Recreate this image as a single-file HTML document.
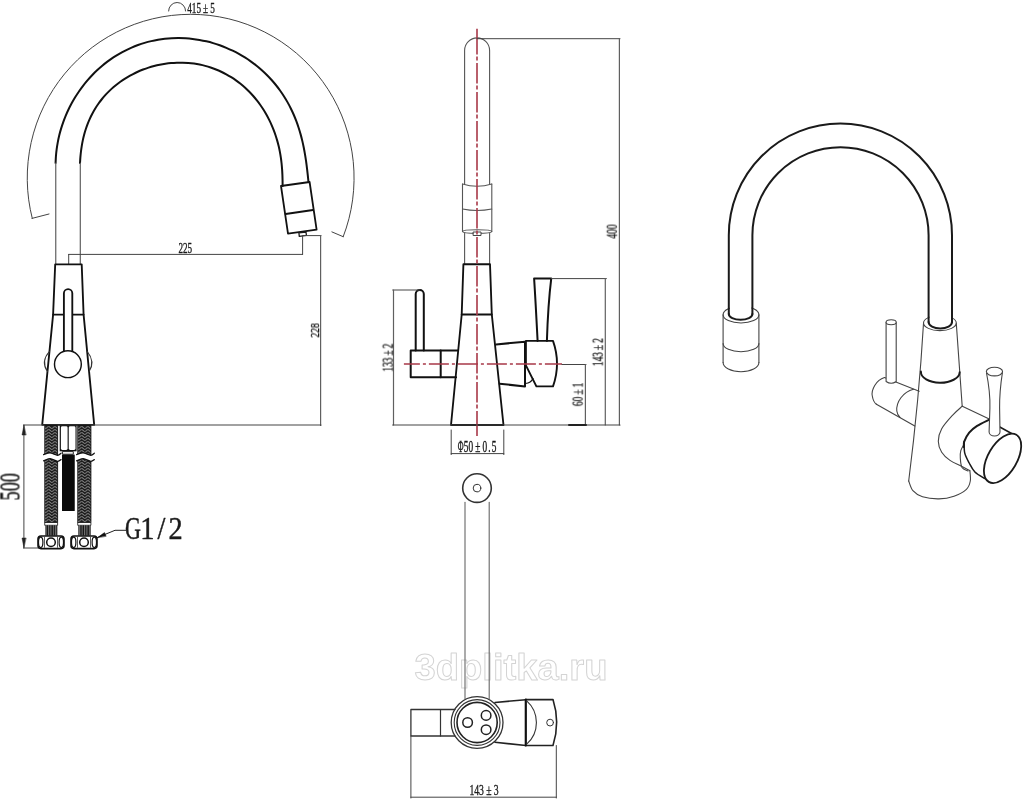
<!DOCTYPE html>
<html><head><meta charset="utf-8"><style>
html,body{margin:0;padding:0;background:#fff;width:1023px;height:800px;overflow:hidden}
svg{display:block}
</style></head><body>
<svg width="1023" height="800" viewBox="0 0 1023 800" stroke-linecap="round" stroke-linejoin="round">
<defs><filter id="gs" x="-0.1" y="-0.1" width="1.2" height="1.2"><feColorMatrix type="saturate" values="0"/></filter></defs>
<rect width="1023" height="800" fill="#fff"/>
<path d="M32.27,218.33 A163.5,163.5 0 1 1 343.20,236.70" stroke="#444" stroke-width="1" fill="none"/>
<line x1="32" y1="218.4" x2="49" y2="214" stroke="#444" stroke-width="1" />
<line x1="331.9" y1="231.9" x2="343.2" y2="236.7" stroke="#444" stroke-width="1" />
<path d="M168.6,11 A8.5,8.5 0 0 1 185.6,11" stroke="#444" stroke-width="1" fill="none" />
<path d="M55.59,162.99 C55.65,161.83 55.77,158.33 55.95,156.03 C56.13,153.72 56.37,151.42 56.67,149.14 C56.97,146.85 57.34,144.58 57.76,142.32 C58.18,140.06 58.67,137.81 59.21,135.57 C59.75,133.34 60.35,131.11 61.01,128.91 C61.67,126.70 62.39,124.51 63.16,122.34 C63.94,120.16 64.77,118.00 65.66,115.87 C66.55,113.74 67.49,111.62 68.49,109.53 C69.49,107.44 70.55,105.37 71.66,103.33 C72.76,101.30 73.93,99.28 75.14,97.30 C76.35,95.32 77.62,93.37 78.94,91.45 C80.25,89.54 81.62,87.66 83.04,85.81 C84.46,83.97 85.92,82.16 87.43,80.40 C88.95,78.64 90.51,76.91 92.11,75.23 C93.71,73.56 95.37,71.92 97.06,70.34 C98.75,68.75 100.48,67.21 102.26,65.73 C104.03,64.24 105.85,62.80 107.71,61.42 C109.56,60.04 111.45,58.71 113.38,57.44 C115.31,56.17 117.27,54.96 119.26,53.80 C121.26,52.65 123.29,51.55 125.34,50.52 C127.40,49.48 129.49,48.51 131.60,47.60 C133.71,46.68 135.86,45.83 138.02,45.05 C140.18,44.26 142.37,43.54 144.58,42.89 C146.78,42.23 149.01,41.64 151.25,41.12 C153.49,40.59 155.76,40.14 158.03,39.75 C160.30,39.35 162.59,39.03 164.88,38.77 C167.17,38.52 169.48,38.33 171.79,38.20 C174.09,38.08 176.41,38.02 178.73,38.03 C181.04,38.05 183.36,38.12 185.68,38.27 C187.99,38.41 190.31,38.62 192.62,38.90 C194.92,39.17 197.23,39.52 199.52,39.92 C201.81,40.33 204.09,40.80 206.36,41.33 C208.63,41.87 210.89,42.47 213.12,43.13 C215.36,43.78 217.58,44.51 219.78,45.29 C221.97,46.07 224.15,46.92 226.30,47.82 C228.45,48.72 230.58,49.68 232.68,50.70 C234.77,51.71 236.85,52.79 238.88,53.92 C240.92,55.05 242.92,56.24 244.89,57.47 C246.86,58.71 248.79,60.00 250.69,61.34 C252.58,62.68 254.44,64.08 256.25,65.52 C258.07,66.96 259.84,68.45 261.57,69.99 C263.29,71.52 264.98,73.11 266.62,74.73 C268.25,76.36 269.85,78.03 271.39,79.74 C272.93,81.45 274.42,83.21 275.87,85.00 C277.31,86.79 278.70,88.63 280.04,90.49 C281.39,92.36 282.68,94.27 283.91,96.20 C285.15,98.14 286.34,100.11 287.47,102.12 C288.60,104.12 289.68,106.15 290.70,108.22 C291.73,110.28 292.70,112.37 293.63,114.48 C294.55,116.60 295.42,118.74 296.24,120.90 C297.06,123.07 297.82,125.25 298.54,127.46 C299.26,129.66 299.93,131.89 300.56,134.12 C301.19,136.36 301.76,138.62 302.30,140.88 C302.84,143.15 303.33,145.43 303.79,147.71 C304.24,150.00 304.66,152.29 305.04,154.59 C305.43,156.88 305.78,159.19 306.10,161.48 C306.43,163.78 306.72,166.08 307.00,168.37 C307.28,170.66 307.53,172.94 307.77,175.21 C308.02,177.48 308.36,180.85 308.48,181.98" stroke="#111" stroke-width="2" fill="none" />
<path d="M80.01,162.94 C80.07,162.02 80.22,159.25 80.37,157.39 C80.53,155.52 80.71,153.63 80.94,151.75 C81.17,149.86 81.43,147.96 81.74,146.07 C82.04,144.18 82.39,142.28 82.79,140.40 C83.19,138.52 83.63,136.64 84.12,134.78 C84.62,132.93 85.16,131.08 85.75,129.26 C86.34,127.43 86.98,125.62 87.67,123.84 C88.36,122.06 89.10,120.30 89.89,118.57 C90.69,116.84 91.53,115.13 92.42,113.45 C93.32,111.78 94.26,110.13 95.25,108.52 C96.25,106.91 97.29,105.33 98.38,103.78 C99.47,102.24 100.61,100.72 101.79,99.25 C102.97,97.78 104.21,96.34 105.48,94.94 C106.75,93.54 108.07,92.18 109.43,90.86 C110.79,89.54 112.19,88.26 113.63,87.03 C115.07,85.79 116.55,84.59 118.06,83.44 C119.58,82.29 121.13,81.18 122.71,80.11 C124.30,79.05 125.92,78.03 127.56,77.05 C129.21,76.08 130.89,75.15 132.59,74.27 C134.29,73.39 136.02,72.55 137.77,71.77 C139.53,70.98 141.30,70.24 143.10,69.55 C144.90,68.86 146.71,68.22 148.55,67.63 C150.38,67.04 152.23,66.51 154.09,66.02 C155.95,65.53 157.83,65.09 159.72,64.71 C161.60,64.33 163.50,64.00 165.40,63.72 C167.30,63.44 169.21,63.21 171.12,63.04 C173.04,62.87 174.95,62.76 176.87,62.69 C178.78,62.63 180.70,62.62 182.61,62.67 C184.52,62.72 186.43,62.82 188.33,62.98 C190.23,63.13 192.13,63.35 194.01,63.61 C195.90,63.88 197.77,64.20 199.64,64.58 C201.50,64.96 203.35,65.39 205.19,65.88 C207.02,66.37 208.84,66.91 210.64,67.51 C212.44,68.11 214.23,68.76 215.99,69.46 C217.75,70.17 219.49,70.93 221.21,71.73 C222.93,72.54 224.62,73.41 226.29,74.32 C227.96,75.23 229.60,76.19 231.21,77.20 C232.82,78.21 234.41,79.27 235.96,80.38 C237.51,81.49 239.04,82.64 240.53,83.84 C242.02,85.03 243.47,86.28 244.89,87.56 C246.31,88.84 247.70,90.17 249.05,91.53 C250.40,92.90 251.71,94.30 252.99,95.74 C254.26,97.18 255.50,98.65 256.70,100.16 C257.89,101.66 259.05,103.21 260.16,104.77 C261.28,106.34 262.35,107.94 263.38,109.56 C264.42,111.19 265.41,112.84 266.35,114.51 C267.30,116.18 268.20,117.88 269.06,119.59 C269.92,121.30 270.74,123.04 271.51,124.78 C272.28,126.53 273.01,128.30 273.70,130.07 C274.38,131.85 275.03,133.64 275.62,135.44 C276.22,137.24 276.78,139.05 277.29,140.86 C277.81,142.68 278.28,144.51 278.71,146.34 C279.14,148.17 279.53,150.01 279.88,151.86 C280.23,153.71 280.54,155.56 280.81,157.42 C281.09,159.27 281.32,161.14 281.53,163.01 C281.74,164.88 281.90,166.76 282.04,168.65 C282.19,170.55 282.29,172.44 282.38,174.36 C282.46,176.28 282.52,178.21 282.56,180.16 C282.60,182.12 282.61,185.10 282.62,186.09" stroke="#111" stroke-width="2" fill="none" />
<line x1="55.75" y1="163" x2="55.75" y2="264.5" stroke="#606060" stroke-width="1.2" />
<line x1="80.3" y1="163" x2="80.3" y2="264.5" stroke="#606060" stroke-width="1.2" />
<path d="M281.00,186.00 L309.60,182.00 L316.60,229.60 L288.00,233.60 Z" stroke="#111" stroke-width="1.8" fill="none" />
<line x1="285.6" y1="214" x2="313" y2="210" stroke="#111" stroke-width="1.8" />
<path d="M298.90,232.90 L306.00,232.00 L306.40,235.40 L299.30,236.30 Z" stroke="#1a1a1a" stroke-width="1.3" fill="none" />
<line x1="302.6" y1="235.8" x2="302.6" y2="254.4" stroke="#444" stroke-width="1" />
<line x1="68.7" y1="254.4" x2="302.6" y2="254.4" stroke="#444" stroke-width="1" />
<line x1="68.7" y1="254.4" x2="68.7" y2="264.5" stroke="#444" stroke-width="1" />
<line x1="304" y1="235.6" x2="321" y2="235.6" stroke="#444" stroke-width="1" />
<line x1="320.6" y1="235.6" x2="320.6" y2="425.5" stroke="#606060" stroke-width="1.2" />
<path d="M55.20,264.30 L81.70,264.30 L83.60,314.60 L94.20,424.80 L42.20,424.80 L53.10,314.60 Z" stroke="#111" stroke-width="1.85" fill="none" />
<line x1="53.1" y1="314.6" x2="83.6" y2="314.6" stroke="#111" stroke-width="1.85" />
<path d="M63.9,354 L63.9,293.3 A4.2,4.2 0 0 1 72.3,293.3 L72.3,354" stroke="#111" stroke-width="1.85" fill="white" />
<circle cx="67.9" cy="364.2" r="13.4" stroke="#111" stroke-width="1.45" fill="white"/>
<path d="M49.4,351.5 Q40.5,361.5 47.5,371.5" stroke="#333" stroke-width="1.1" fill="none" />
<path d="M87.2,351.5 Q95.5,361.5 89.1,371.5" stroke="#333" stroke-width="1.1" fill="none" />
<line x1="23.5" y1="425" x2="321" y2="425" stroke="#444" stroke-width="1.2" />
<line x1="23.9" y1="425" x2="23.9" y2="548" stroke="#444" stroke-width="1" />
<path d="M23.90,425.50 L22.00,435.00 L25.80,435.00 Z" stroke="#222" stroke-width="0.5" fill="#222" />
<path d="M23.90,547.50 L22.00,538.00 L25.80,538.00 Z" stroke="#222" stroke-width="0.5" fill="#222" />
<line x1="23.5" y1="548" x2="39" y2="548" stroke="#444" stroke-width="1" />
<defs>
<pattern id="braid" x="45.6" y="0" width="6.2" height="3" patternUnits="userSpaceOnUse">
<rect width="6.2" height="3" fill="#1c1c1c"/>
<path d="M0.4,2.5 L2.6,0.6 M3.6,0.6 L5.8,2.5" stroke="#8a8a8a" stroke-width="0.95" fill="none"/>
</pattern>
<pattern id="braid2" x="78.6" y="0" width="6.2" height="3" patternUnits="userSpaceOnUse">
<rect width="6.2" height="3" fill="#1c1c1c"/>
<path d="M0.4,2.5 L2.6,0.6 M3.6,0.6 L5.8,2.5" stroke="#8a8a8a" stroke-width="0.95" fill="none"/>
</pattern>
<pattern id="rib" width="2.4" height="4" patternUnits="userSpaceOnUse">
<rect width="2.4" height="4" fill="#111"/>
<rect x="0" width="1.1" height="4" fill="#777"/>
</pattern>
</defs>
<rect x="45.1" y="425.5" width="12.5" height="97" fill="url(#braid)" stroke="#111" stroke-width="0.9"/>
<path d="M43.60,454.60 C44.67,454.32 47.72,452.78 50.04,452.90 C52.36,453.02 55.69,455.25 57.52,455.30 C59.35,455.35 60.42,453.55 61.00,453.20 L61.00,459.60 C60.42,459.88 59.35,461.47 57.52,461.30 C55.69,461.13 52.36,458.67 50.04,458.60 C47.72,458.53 44.67,460.52 43.60,460.90 Z" fill="white" stroke="none"/>
<path d="M43.60,454.60 C44.67,454.32 47.72,452.78 50.04,452.90 C52.36,453.02 55.69,455.25 57.52,455.30 C59.35,455.35 60.42,453.55 61.00,453.20" stroke="#111" stroke-width="1.3" fill="none" />
<path d="M43.60,460.90 C44.67,460.52 47.72,458.53 50.04,458.60 C52.36,458.67 55.69,461.13 57.52,461.30 C59.35,461.47 60.42,459.88 61.00,459.60" stroke="#111" stroke-width="1.3" fill="none" />
<rect x="45.1" y="522.5" width="12.5" height="2.8" fill="white" stroke="#111" stroke-width="0.8"/>
<rect x="45.300000000000004" y="525.3" width="12.1" height="10.4" fill="url(#rib)"/>
<rect x="78.1" y="425.5" width="12.800000000000011" height="97" fill="url(#braid2)" stroke="#111" stroke-width="0.9"/>
<path d="M76.60,454.60 C77.69,454.32 80.79,452.78 83.15,452.90 C85.51,453.02 88.90,455.25 90.76,455.30 C92.62,455.35 93.71,453.55 94.30,453.20 L94.30,459.60 C93.71,459.88 92.62,461.47 90.76,461.30 C88.90,461.13 85.51,458.67 83.15,458.60 C80.79,458.53 77.69,460.52 76.60,460.90 Z" fill="white" stroke="none"/>
<path d="M76.60,454.60 C77.69,454.32 80.79,452.78 83.15,452.90 C85.51,453.02 88.90,455.25 90.76,455.30 C92.62,455.35 93.71,453.55 94.30,453.20" stroke="#111" stroke-width="1.3" fill="none" />
<path d="M76.60,460.90 C77.69,460.52 80.79,458.53 83.15,458.60 C85.51,458.67 88.90,461.13 90.76,461.30 C92.62,461.47 93.71,459.88 94.30,459.60" stroke="#111" stroke-width="1.3" fill="none" />
<rect x="78.1" y="522.5" width="12.800000000000011" height="2.8" fill="white" stroke="#111" stroke-width="0.8"/>
<rect x="78.3" y="525.3" width="12.400000000000011" height="10.4" fill="url(#rib)"/>
<rect x="59.7" y="425.3" width="16.9" height="26" fill="#111"/>
<rect x="60.9" y="426.3" width="6.7" height="23.6" rx="1.4" fill="white"/>
<rect x="68.75" y="426.3" width="6.75" height="23.6" rx="1.4" fill="white"/>
<rect x="62.8" y="451.6" width="10.5" height="2.6" fill="white" stroke="#111" stroke-width="0.9"/>
<rect x="62" y="454.5" width="12.75" height="56.5" rx="0.6" fill="#0a0a0a"/>
<rect x="38" y="536" width="26" height="12.6" rx="3" fill="white" stroke="#111" stroke-width="1.6"/>
<ellipse cx="40.7" cy="542.3" rx="2.2" ry="5.2" fill="none" stroke="#111" stroke-width="1.2"/>
<ellipse cx="61.3" cy="542.3" rx="2.2" ry="5.2" fill="none" stroke="#111" stroke-width="1.2"/>
<circle cx="51" cy="542.3" r="4.3" fill="none" stroke="#111" stroke-width="1.5"/>
<line x1="44.5" y1="537.2" x2="44.5" y2="547.4" stroke="#333" stroke-width="0.8" />
<line x1="57.5" y1="537.2" x2="57.5" y2="547.4" stroke="#333" stroke-width="0.8" />
<rect x="71" y="536" width="26" height="12.6" rx="3" fill="white" stroke="#111" stroke-width="1.6"/>
<ellipse cx="73.7" cy="542.3" rx="2.2" ry="5.2" fill="none" stroke="#111" stroke-width="1.2"/>
<ellipse cx="94.3" cy="542.3" rx="2.2" ry="5.2" fill="none" stroke="#111" stroke-width="1.2"/>
<circle cx="84" cy="542.3" r="4.3" fill="none" stroke="#111" stroke-width="1.5"/>
<line x1="77.5" y1="537.2" x2="77.5" y2="547.4" stroke="#333" stroke-width="0.8" />
<line x1="90.5" y1="537.2" x2="90.5" y2="547.4" stroke="#333" stroke-width="0.8" />
<path d="M97.50,537.50 L115.00,530.30 L125.80,530.30" stroke="#222" stroke-width="1" fill="none" />
<path d="M97.50,537.60 L104.50,532.60 L106.00,536.00 Z" stroke="#111" stroke-width="0.5" fill="#111" />
<path d="M464.6,184 L464.6,50.4 A12.5,12.5 0 0 1 489.6,50.4 L489.6,184" stroke="#555" stroke-width="1.1" fill="none" />
<path d="M462.5,184 Q477,188.5 491.8,184" stroke="#555" stroke-width="1.1" fill="none" />
<line x1="462.5" y1="184" x2="462.5" y2="231.5" stroke="#555" stroke-width="1.1" />
<line x1="491.8" y1="184" x2="491.8" y2="231.5" stroke="#555" stroke-width="1.1" />
<path d="M462.5,209 Q477,212 491.8,209" stroke="#555" stroke-width="1.1" fill="none" />
<ellipse cx="477.15" cy="231.6" rx="14.6" ry="1.8" fill="none" stroke="#555" stroke-width="1.1"/>
<rect x="473.5" y="232" width="7.5" height="3.5" fill="white" stroke="#444" stroke-width="1"/>
<line x1="464.6" y1="233.4" x2="464.6" y2="264.2" stroke="#555" stroke-width="1.1" />
<line x1="489.6" y1="233.4" x2="489.6" y2="264.2" stroke="#555" stroke-width="1.1" />
<path d="M463.40,264.20 L490.00,264.20 L491.80,314.50 L503.50,425.00 L451.00,425.00 L461.70,314.50 Z" stroke="#111" stroke-width="1.85" fill="none" />
<line x1="461.7" y1="314.5" x2="491.8" y2="314.5" stroke="#111" stroke-width="1.85" />
<path d="M415.7,350.5 L415.7,294 A4.05,4.05 0 0 1 423.8,294 L423.8,350.5" stroke="#111" stroke-width="2" fill="none" />
<path d="M457.50,350.50 L410.70,350.50 L410.70,377.20 L456.10,377.20" stroke="#111" stroke-width="2" fill="none" />
<line x1="440.7" y1="350.5" x2="440.7" y2="377.2" stroke="#111" stroke-width="2" />
<path d="M496.10,344.40 L525.00,341.75 L525.00,386.40 L499.60,383.75" stroke="#111" stroke-width="2" fill="none" />
<path d="M525.9,365.4 L525.9,340.9 L553,340.9 A68.3,68.3 0 0 1 553,386.4 L536.4,386.4 Z" stroke="#111" stroke-width="1.9" fill="none" />
<path d="M525.5,383.5 Q531,383 533,378.5" stroke="#111" stroke-width="1.2" fill="none" />
<path d="M537.6,340.9 Q535.5,300 534.1,278.4 L551.25,278.4 Q548,305 546.9,340.9" stroke="#111" stroke-width="2" fill="none" />
<line x1="477" y1="28.75" x2="477" y2="54.5" stroke="#a83848" stroke-width="1.6" stroke-linecap="butt"/>
<line x1="477" y1="56.5" x2="477" y2="425" stroke="#a83848" stroke-width="1.6" stroke-dasharray="4,2.5,20.5,2" stroke-linecap="butt"/>
<line x1="477" y1="425" x2="477" y2="436.1" stroke="#a83848" stroke-width="1.6" stroke-linecap="butt"/>
<line x1="403.9" y1="364" x2="562" y2="364" stroke="#a83848" stroke-width="1.6" stroke-dasharray="20,3,3,3" stroke-dashoffset="4" stroke-linecap="butt"/>
<line x1="477" y1="38.7" x2="620" y2="38.7" stroke="#444" stroke-width="1" />
<line x1="619.4" y1="38.7" x2="619.4" y2="425" stroke="#606060" stroke-width="1.2" />
<line x1="551.25" y1="278.6" x2="606.4" y2="278.6" stroke="#444" stroke-width="1" />
<line x1="605.3" y1="278.6" x2="605.3" y2="425" stroke="#606060" stroke-width="1.2" />
<line x1="562" y1="364.5" x2="586" y2="364.5" stroke="#444" stroke-width="1" />
<line x1="585.4" y1="364.5" x2="585.4" y2="425" stroke="#606060" stroke-width="1.2" />
<line x1="392.7" y1="290" x2="419.7" y2="290" stroke="#444" stroke-width="1" />
<line x1="393.5" y1="290" x2="393.5" y2="425" stroke="#606060" stroke-width="1.2" />
<line x1="392.7" y1="425" x2="620" y2="425" stroke="#444" stroke-width="1.2" />
<line x1="569" y1="425" x2="586" y2="425" stroke="#222" stroke-width="2" />
<line x1="451.2" y1="430" x2="451.2" y2="454.6" stroke="#444" stroke-width="1" />
<line x1="503.8" y1="430" x2="503.8" y2="454.6" stroke="#444" stroke-width="1" />
<line x1="451.2" y1="453.6" x2="503.8" y2="453.6" stroke="#444" stroke-width="1" />
<circle cx="477" cy="488.1" r="14.3" fill="none" stroke="#333" stroke-width="1.6"/>
<circle cx="477" cy="488.1" r="3.8" fill="none" stroke="#333" stroke-width="1"/>
<text x="414.5" y="679.8" font-family="Liberation Sans" font-weight="bold" font-size="37" fill="none" stroke="#d4d4d4" stroke-width="1" textLength="193" lengthAdjust="spacingAndGlyphs" filter="url(#gs)">3dplitka.ru</text>
<line x1="465" y1="502.4" x2="465" y2="698.5" stroke="#666" stroke-width="1.1" />
<line x1="489.2" y1="502.4" x2="489.2" y2="698.5" stroke="#666" stroke-width="1.1" />
<circle cx="477.1" cy="722.5" r="25.9" fill="white" stroke="#333" stroke-width="1.3"/>
<circle cx="477.1" cy="722.5" r="22.9" fill="none" stroke="#333" stroke-width="1.1"/>
<circle cx="477.1" cy="722.5" r="20.1" fill="none" stroke="#222" stroke-width="1.6"/>
<circle cx="467.6" cy="722.5" r="4.8" fill="none" stroke="#222" stroke-width="1.5"/>
<circle cx="486.1" cy="715.4" r="4.8" fill="none" stroke="#222" stroke-width="1.5"/>
<circle cx="486.1" cy="729.7" r="4.8" fill="none" stroke="#222" stroke-width="1.5"/>
<path d="M455.00,709.50 L410.90,709.50 L410.90,736.00 L455.00,736.00" stroke="#333" stroke-width="1.3" fill="none" />
<line x1="440.5" y1="709.5" x2="440.5" y2="736" stroke="#333" stroke-width="1.2" />
<path d="M495.00,702.50 L525.80,699.70" stroke="#222" stroke-width="1.6" fill="none" />
<path d="M495.00,742.30 L525.80,745.50" stroke="#222" stroke-width="1.6" fill="none" />
<path d="M525.8,699.6 L553,699.6 A75,75 0 0 1 553,745.5 L525.8,745.5" stroke="#222" stroke-width="1.6" fill="none" />
<line x1="525.8" y1="699.6" x2="525.8" y2="745.5" stroke="#111" stroke-width="2.2" />
<path d="M526.7,700.8 A29.1,29.1 0 0 1 526.7,744.2" stroke="#333" stroke-width="1.1" fill="none" />
<circle cx="550.1" cy="722.6" r="3.4" fill="none" stroke="#333" stroke-width="1"/>
<line x1="410.9" y1="736" x2="410.9" y2="798" stroke="#444" stroke-width="1" />
<line x1="556.3" y1="745.5" x2="556.3" y2="798" stroke="#444" stroke-width="1" />
<line x1="410.9" y1="797.2" x2="556.3" y2="797.2" stroke="#444" stroke-width="1" />
<ellipse cx="741" cy="314.7" rx="17.9" ry="8.3" fill="none" stroke="#444" stroke-width="1.1"/>
<ellipse cx="939.9" cy="323" rx="16.4" ry="7.6" fill="none" stroke="#444" stroke-width="1.1"/>
<rect x="729.8" y="300" width="21.6" height="14" fill="white"/>
<rect x="929.6" y="305" width="21.4" height="17" fill="white"/>
<path d="M728.8,314 L728.8,235.2 A111.6,111.6 0 0 1 952,235.2 L952,322" stroke="#1a1a1a" stroke-width="2.0" fill="none" />
<path d="M752.4,314 L752.4,235.2 A88.1,88.1 0 0 1 928.6,235.2 L928.6,322" stroke="#1a1a1a" stroke-width="2.0" fill="none" />
<path d="M728.8,314 A11.8,5.8 0 0 0 752.4,314" stroke="#1a1a1a" stroke-width="2.0" fill="none" />
<line x1="723.1" y1="314.7" x2="723.1" y2="362.5" stroke="#444" stroke-width="1.1" />
<line x1="758.9" y1="314.7" x2="758.9" y2="362.5" stroke="#444" stroke-width="1.1" />
<path d="M723.1,343.5 A17.9,8.3 0 0 0 758.9,343.5" stroke="#444" stroke-width="1.1" fill="none" />
<path d="M723.1,362.5 A17.9,9.2 0 0 0 758.9,362.5" stroke="#444" stroke-width="1.1" fill="none" />
<path d="M928.6,322 A11.7,6.6 0 0 0 952,322" stroke="#1a1a1a" stroke-width="2.0" fill="none" />
<path d="M923.5,323.5 Q919,400 908.7,481" stroke="#444" stroke-width="1.1" fill="none" />
<path d="M956.3,323.5 L962.2,406.2" stroke="#444" stroke-width="1.1" fill="none" />
<path d="M920.9,371.6 A19.4,10.8 0 0 0 959.7,372.2" stroke="#1a1a1a" stroke-width="2.0" fill="none" />
<path d="M908.70,481.00 C909.40,482.62 910.60,488.07 912.90,490.70 C915.20,493.33 918.15,495.43 922.50,496.80 C926.85,498.17 933.75,499.00 939.00,498.90 C944.25,498.80 949.43,497.80 954.00,496.20 C958.57,494.60 963.68,491.83 966.40,489.30 C969.12,486.77 969.72,484.10 970.30,481.00 C970.88,477.90 969.97,472.42 969.90,470.70" stroke="#444" stroke-width="1.1" fill="none" />
<line x1="962.3" y1="406.2" x2="988.7" y2="418.7" stroke="#444" stroke-width="1.1" />
<path d="M962.30,406.20 C960.70,407.68 956.13,411.33 952.70,415.10 C949.27,418.87 944.10,424.45 941.70,428.80 C939.30,433.15 938.30,437.30 938.30,441.20 C938.30,445.10 939.75,449.00 941.70,452.20 C943.65,455.40 946.78,458.10 950.00,460.40 C953.22,462.70 957.68,464.28 961.00,466.00 C964.32,467.72 968.42,469.92 969.90,470.70" stroke="#444" stroke-width="1.1" fill="none" />
<path d="M964.20,443.90 C963.63,445.02 961.45,448.25 960.80,450.60 C960.15,452.95 960.10,455.18 960.30,458.00 C960.50,460.82 960.72,465.35 962.00,467.50 C963.28,469.65 967.00,470.33 968.00,470.90" stroke="#444" stroke-width="1.1" fill="none" />
<path d="M989.20,419.60 C987.18,420.65 980.43,423.73 977.10,425.90 C973.77,428.07 971.35,429.98 969.20,432.60 C967.05,435.22 965.08,439.20 964.20,441.60 C963.32,444.00 963.95,446.10 963.90,447.00" stroke="#1a1a1a" stroke-width="2.0" fill="none" />
<path d="M964.20,441.60 C964.28,443.48 963.87,449.33 964.70,452.90 C965.53,456.47 967.50,459.82 969.20,463.00 C970.90,466.18 972.27,469.38 974.90,472.00 C977.53,474.62 982.00,476.92 985.00,478.70 C988.00,480.48 991.58,482.03 992.90,482.70" stroke="#1a1a1a" stroke-width="1.5" fill="none" />
<line x1="999.8" y1="427" x2="1012.5" y2="434" stroke="#1a1a1a" stroke-width="1.5" />
<ellipse cx="1002.55" cy="458.35" rx="14.5" ry="27.3" transform="rotate(30.4 1002.55 458.35)" fill="white" stroke="#1a1a1a" stroke-width="1.8"/>
<path d="M986.5,373 C989.5,388 990.2,398 989.9,408 L989.1,432 A5.45,4 0 0 0 1000,432 L999.6,408 C999.5,398 1000,388 1002.5,372" stroke="#444" stroke-width="1.1" fill="white" />
<ellipse cx="994.45" cy="371.6" rx="8.1" ry="4.3" fill="white" stroke="#444" stroke-width="1.1"/>
<path d="M884.5,377.5 L919.2,391.2" stroke="#444" stroke-width="1.1" fill="none" />
<path d="M876.4,404.2 L914.8,426.1" stroke="#444" stroke-width="1.1" fill="none" />
<path d="M884.5,377.5 C876,380 871,390 872.3,396 C873,400 874.5,403 876.4,404.2" stroke="#444" stroke-width="1.1" fill="none" />
<path d="M913.5,389.3 C903,392 896,402 896.8,411 C897.2,414 898.5,416 900,417.5" stroke="#444" stroke-width="1.1" fill="none" />
<path d="M886.1,322.2 L886.1,381.5 Q891.2,385 896.2,381.5 L896.2,322.2" stroke="#444" stroke-width="1.1" fill="white" />
<ellipse cx="891.15" cy="322.2" rx="5.05" ry="2.5" fill="white" stroke="#444" stroke-width="1.1"/>
<g transform="translate(187.22,12.86) scale(0.0922,0.1373)" fill="#1a1a1a" stroke="#1a1a1a" stroke-width="2.5" filter="url(#gs)"><text x="25.0" y="0" text-anchor="middle" font-family="Liberation Serif" font-size="100">4</text><text x="75.0" y="0" text-anchor="middle" font-family="Liberation Serif" font-size="100">1</text><text x="125.0" y="0" text-anchor="middle" font-family="Liberation Serif" font-size="100">5</text><text x="200.0" y="0" text-anchor="middle" font-family="Liberation Serif" font-size="100">±</text><text x="275.0" y="0" text-anchor="middle" font-family="Liberation Serif" font-size="100">5</text></g>
<g transform="translate(178.43,253.11) scale(0.0915,0.1417)" fill="#1a1a1a" stroke="#1a1a1a" stroke-width="2.5" filter="url(#gs)"><text x="25.0" y="0" text-anchor="middle" font-family="Liberation Serif" font-size="100">2</text><text x="75.0" y="0" text-anchor="middle" font-family="Liberation Serif" font-size="100">2</text><text x="125.0" y="0" text-anchor="middle" font-family="Liberation Serif" font-size="100">5</text></g>
<g transform="translate(318.98,337.48) rotate(-90) scale(0.0951,0.1343)" fill="#1a1a1a" stroke="#1a1a1a" stroke-width="2.5" filter="url(#gs)"><text x="25.0" y="0" text-anchor="middle" font-family="Liberation Serif" font-size="100">2</text><text x="75.0" y="0" text-anchor="middle" font-family="Liberation Serif" font-size="100">2</text><text x="125.0" y="0" text-anchor="middle" font-family="Liberation Serif" font-size="100">8</text></g>
<g transform="translate(19.43,500.50) rotate(-90) scale(0.1832,0.2851)" fill="#1a1a1a" stroke="#1a1a1a" stroke-width="1.5" filter="url(#gs)"><text x="25.0" y="0" text-anchor="middle" font-family="Liberation Serif" font-size="100">5</text><text x="75.0" y="0" text-anchor="middle" font-family="Liberation Serif" font-size="100">0</text><text x="125.0" y="0" text-anchor="middle" font-family="Liberation Serif" font-size="100">0</text></g>
<g transform="translate(126.00,538.68) scale(0.2835,0.3088)" fill="#1a1a1a" stroke="#1a1a1a" stroke-width="1.5" filter="url(#gs)"><text x="25.0" y="0" text-anchor="middle" font-family="Liberation Serif" font-size="100" transform="translate(25.0,0) scale(0.78,1) translate(-25.0,0)">G</text><text x="75.0" y="0" text-anchor="middle" font-family="Liberation Serif" font-size="100">1</text><text x="125.0" y="0" text-anchor="middle" font-family="Liberation Serif" font-size="100">/</text><text x="175.0" y="0" text-anchor="middle" font-family="Liberation Serif" font-size="100">2</text></g>
<g transform="translate(616.80,238.59) rotate(-90) scale(0.0944,0.1507)" fill="#1a1a1a" stroke="#1a1a1a" stroke-width="2.5" filter="url(#gs)"><text x="25.0" y="0" text-anchor="middle" font-family="Liberation Serif" font-size="100">4</text><text x="75.0" y="0" text-anchor="middle" font-family="Liberation Serif" font-size="100">0</text><text x="125.0" y="0" text-anchor="middle" font-family="Liberation Serif" font-size="100">0</text></g>
<g transform="translate(602.66,366.14) rotate(-90) scale(0.0933,0.1448)" fill="#1a1a1a" stroke="#1a1a1a" stroke-width="2.5" filter="url(#gs)"><text x="25.0" y="0" text-anchor="middle" font-family="Liberation Serif" font-size="100">1</text><text x="75.0" y="0" text-anchor="middle" font-family="Liberation Serif" font-size="100">4</text><text x="125.0" y="0" text-anchor="middle" font-family="Liberation Serif" font-size="100">3</text><text x="200.0" y="0" text-anchor="middle" font-family="Liberation Serif" font-size="100">±</text><text x="275.0" y="0" text-anchor="middle" font-family="Liberation Serif" font-size="100">2</text></g>
<g transform="translate(582.63,406.18) rotate(-90) scale(0.0938,0.1368)" fill="#1a1a1a" stroke="#1a1a1a" stroke-width="2.5" filter="url(#gs)"><text x="25.0" y="0" text-anchor="middle" font-family="Liberation Serif" font-size="100">6</text><text x="75.0" y="0" text-anchor="middle" font-family="Liberation Serif" font-size="100">0</text><text x="150.0" y="0" text-anchor="middle" font-family="Liberation Serif" font-size="100">±</text><text x="225.0" y="0" text-anchor="middle" font-family="Liberation Serif" font-size="100">1</text></g>
<g transform="translate(392.66,371.59) rotate(-90) scale(0.0935,0.1448)" fill="#1a1a1a" stroke="#1a1a1a" stroke-width="2.5" filter="url(#gs)"><text x="25.0" y="0" text-anchor="middle" font-family="Liberation Serif" font-size="100">1</text><text x="75.0" y="0" text-anchor="middle" font-family="Liberation Serif" font-size="100">3</text><text x="125.0" y="0" text-anchor="middle" font-family="Liberation Serif" font-size="100">3</text><text x="200.0" y="0" text-anchor="middle" font-family="Liberation Serif" font-size="100">±</text><text x="275.0" y="0" text-anchor="middle" font-family="Liberation Serif" font-size="100">2</text></g>
<g transform="translate(457.35,451.59) scale(0.0932,0.1567)" fill="#1a1a1a" stroke="#1a1a1a" stroke-width="2.5" filter="url(#gs)"><text x="35.0" y="0" text-anchor="middle" font-family="Liberation Serif" font-size="100" transform="translate(35.0,0) scale(0.85,1) translate(-35.0,0)">Φ</text><text x="95.0" y="0" text-anchor="middle" font-family="Liberation Serif" font-size="100">5</text><text x="145.0" y="0" text-anchor="middle" font-family="Liberation Serif" font-size="100">0</text><text x="220.0" y="0" text-anchor="middle" font-family="Liberation Serif" font-size="100">±</text><text x="295.0" y="0" text-anchor="middle" font-family="Liberation Serif" font-size="100">0</text><text x="345.0" y="0" text-anchor="middle" font-family="Liberation Serif" font-size="100">.</text><text x="395.0" y="0" text-anchor="middle" font-family="Liberation Serif" font-size="100">5</text></g>
<g transform="translate(469.43,794.85) scale(0.0969,0.1522)" fill="#1a1a1a" stroke="#1a1a1a" stroke-width="2.5" filter="url(#gs)"><text x="25.0" y="0" text-anchor="middle" font-family="Liberation Serif" font-size="100">1</text><text x="75.0" y="0" text-anchor="middle" font-family="Liberation Serif" font-size="100">4</text><text x="125.0" y="0" text-anchor="middle" font-family="Liberation Serif" font-size="100">3</text><text x="200.0" y="0" text-anchor="middle" font-family="Liberation Serif" font-size="100">±</text><text x="275.0" y="0" text-anchor="middle" font-family="Liberation Serif" font-size="100">3</text></g>
</svg></body></html>
